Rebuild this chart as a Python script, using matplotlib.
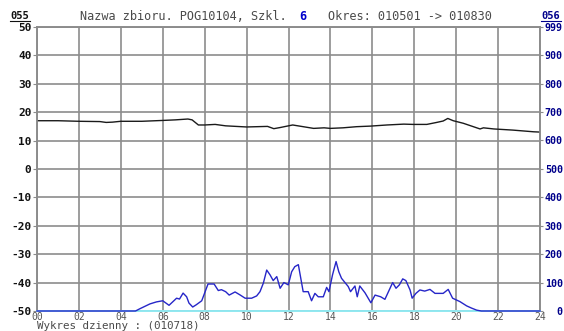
import matplotlib
matplotlib.use("Agg")
import matplotlib.pyplot as plt

# Temperature-like series on the left axis (hours, value)
black_hours = [0.0, 1.0, 2.0, 3.0, 3.3, 3.6, 4.0, 5.0, 6.0, 6.6, 7.2, 7.4, 7.7, 8.0, 8.5,
               9.0, 9.5, 10.0, 10.5, 11.0, 11.3, 11.6, 12.2, 12.7, 13.2, 13.7, 14.0,
               14.6, 15.25, 15.9, 16.7, 17.5, 17.95, 18.6, 19.07, 19.38, 19.6, 19.86,
               20.34, 20.82, 21.14, 21.3, 21.8, 22.7, 23.7, 24.0]
black_vals = [17.0, 17.0, 16.8, 16.7, 16.4, 16.5, 16.8, 16.8, 17.1, 17.3, 17.6, 17.3, 15.5,
              15.5, 15.7, 15.2, 15.0, 14.8, 14.9, 15.0, 14.2, 14.6, 15.5, 14.9, 14.3,
              14.5, 14.3, 14.5, 14.9, 15.1, 15.5, 15.8, 15.7, 15.7, 16.4, 16.9, 17.8,
              17.0, 16.1, 14.9, 14.1, 14.5, 14.1, 13.7, 13.1, 13.0]

# Intensity series on the right axis (hours, value)
blue_hours = [0.0, 4.7, 4.91, 5.39, 5.7, 6.0, 6.3, 6.66, 6.8, 6.97, 7.14, 7.25, 7.43, 7.6,
              7.86, 8.16, 8.45, 8.65, 8.8, 9.0, 9.17, 9.45, 9.7, 9.93, 10.24, 10.48,
              10.64, 10.8, 10.96, 11.12, 11.27, 11.44, 11.6, 11.78, 11.99, 12.15, 12.3,
              12.47, 12.7, 12.94, 13.1, 13.26, 13.42, 13.66, 13.82, 13.93, 14.1, 14.27,
              14.4, 14.53, 14.85, 14.96, 15.17, 15.28, 15.4, 15.65, 15.93, 16.13, 16.4,
              16.6, 16.97, 17.13, 17.29, 17.45, 17.6, 17.8, 17.9, 18.08, 18.27, 18.5,
              18.75, 18.99, 19.38, 19.62, 19.83, 20.18, 20.5, 20.74, 20.98, 21.2, 24.0]
blue_vals = [0, 0, 8, 25, 32, 36, 20, 45, 42, 63, 50, 28, 14, 22,
             36, 95, 95, 72, 75, 68, 56, 67, 56, 45, 45, 53,
             68, 98, 144, 127, 107, 121, 80, 100, 92, 138, 156,
             163, 68, 68, 36, 62, 50, 50, 83, 68, 127, 174,
             138, 115, 86, 68, 88, 50, 88, 64, 29, 56, 50,
             41, 100, 80, 92, 113, 107, 74, 45, 62, 74, 70,
             76, 62, 62, 76, 45, 33, 18, 10, 3, 0, 0]

x_ticks = list(range(0, 25, 2))
x_labels = ["%02d" % h for h in x_ticks]
left_ticks = list(range(-50, 51, 10))
right_ticks = [0, 100, 200, 300, 400, 500, 600, 700, 800, 900, 999]

MONO = "DejaVu Sans Mono"
GRID = "#8c8c8c"
NAVY = "#00008b"
TEXT_GREY = "#4a4a4a"

fig = plt.figure(figsize=(5.64, 3.31), dpi=100)
ax = fig.add_axes([37 / 564, 1 - 311 / 331, (540 - 37) / 564, (311 - 27) / 331])
ax2 = ax.twinx()

ax.set_xlim(0, 24)
ax.set_ylim(-50, 50)
ax2.set_ylim(0, 999)

ax.set_xticks(x_ticks)
ax.set_xticklabels(x_labels, family=MONO, fontsize=7, color="#555555")
ax.set_yticks(left_ticks)
ax.set_yticklabels([str(v) for v in left_ticks], family=MONO, fontsize=8,
                   fontweight="bold", color="#111111")
ax2.set_yticks(right_ticks)
ax2.set_yticklabels([str(v) for v in right_ticks], family=MONO, fontsize=7.2,
                    fontweight="bold", color=NAVY, ha="right")

ax.grid(True, color=GRID, linewidth=1.2)
ax.set_axisbelow(True)
ax.tick_params(axis="x", length=0, pad=0.5)
ax.tick_params(axis="y", length=3, color=GRID, pad=1)
# right-aligned labels ending near the figure edge
ax2.tick_params(axis="y", length=2, color=GRID, pad=14.4)

for a in (ax, ax2):
    a.spines["left"].set_color(GRID)
    a.spines["right"].set_color(GRID)
    a.spines["top"].set_color(GRID)
    a.spines["bottom"].set_color("#8fe8f0")
    for s in a.spines.values():
        s.set_linewidth(1.2)

ax.plot(black_hours, black_vals, color="#1a1a1a", linewidth=1.0, zorder=3)
ax2.plot(blue_hours, blue_vals, color="#2626c8", linewidth=1.0, zorder=3, clip_on=False)

# Header texts
fig.text(10 / 564, 1 - 16 / 331, "055", family=MONO, fontsize=7.5, fontweight="bold",
         color="#111111", va="center", ha="left")
fig.text(541 / 564, 1 - 16 / 331, "056", family=MONO, fontsize=7.5, fontweight="bold",
         color=NAVY, va="center", ha="left")
fig.add_artist(plt.Line2D([10 / 564, 30 / 564], [1 - 21 / 331] * 2, color="#111111", lw=0.8))
fig.add_artist(plt.Line2D([541 / 564, 561 / 564], [1 - 21 / 331] * 2, color=NAVY, lw=0.8))

y_title = 1 - 17 / 331
fig.text(80 / 564, y_title, "Nazwa zbioru. POG10104, Szkl.", family=MONO,
         fontsize=8.6, color=TEXT_GREY, va="center", ha="left")
fig.text(299 / 564, y_title, "6", family=MONO, fontsize=8.6, fontweight="bold",
         color="#0000cc", va="center", ha="left")
fig.text(328 / 564, y_title, "Okres: 010501 -> 010830", family=MONO,
         fontsize=8.6, color=TEXT_GREY, va="center", ha="left")

fig.text(37 / 564, 1 - 326 / 331, "Wykres dzienny : (010718)", family=MONO,
         fontsize=7.8, color=TEXT_GREY, va="center", ha="left")

fig.savefig("out.png", dpi=100)
